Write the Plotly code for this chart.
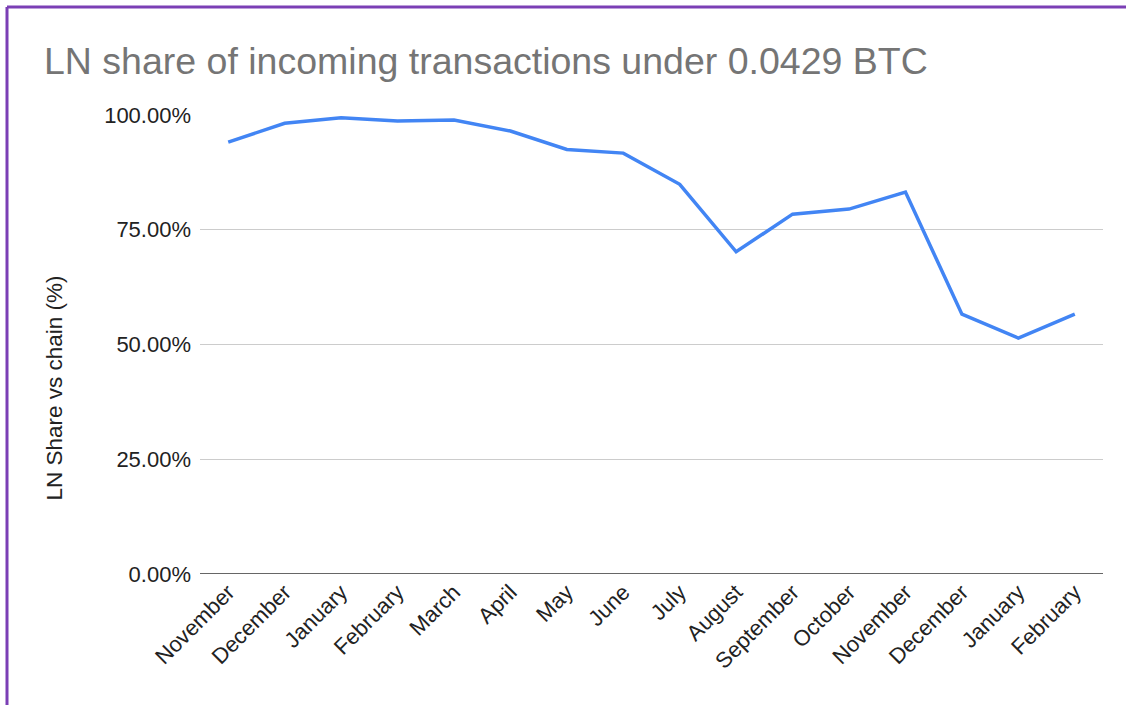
import plotly.graph_objects as go

months = ["November", "December", "January", "February", "March", "April", "May", "June",
          "July", "August", "September", "October", "November", "December", "January", "February"]
ln_share = [94.1, 98.2, 99.4, 98.7, 98.9, 96.5, 92.5, 91.7,
            84.9, 70.2, 78.4, 79.5, 83.2, 56.6, 51.4, 56.6]
y_ticks = [0, 25, 50, 75, 100]
y_tick_labels = ["0.00%", "25.00%", "50.00%", "75.00%", "100.00%"]

positions = list(range(len(months)))

W, H = 1126, 705
L, R, T, B = 200, 23, 115, 131
pw, ph = W - L - R, H - T - B

fig = go.Figure()
fig.add_trace(go.Scatter(
    x=positions, y=ln_share, mode="lines",
    line=dict(color="#4285F4", width=3.5),
    hoverinfo="skip", showlegend=False,
))

font = "Liberation Sans, Arial, sans-serif"

fig.update_layout(
    width=W, height=H,
    margin=dict(l=L, r=R, t=T, b=B),
    paper_bgcolor="white", plot_bgcolor="white",
    title=dict(
        text="LN share of incoming transactions under 0.0429 BTC",
        font=dict(family=font, size=37.5, color="#757575"),
        x=44 / W, xanchor="left", xref="container",
        y=1 - 61 / H, yanchor="middle", yref="container",
    ),
    xaxis=dict(
        range=[-0.5, len(months) - 0.5],
        tickmode="array", tickvals=positions, ticktext=months,
        tickangle=-45, showgrid=False, zeroline=False, showline=False,
        ticks="", tickfont=dict(family=font, size=22, color="#222222"),
        fixedrange=True,
    ),
    yaxis=dict(
        range=[0, 100],
        tickmode="array", tickvals=y_ticks, ticktext=y_tick_labels,
        showgrid=True, gridcolor="#cccccc", gridwidth=1.2,
        zeroline=False, showline=False, ticks="",
        ticklabelstandoff=8,
        tickfont=dict(family=font, size=22, color="#222222"),
        fixedrange=True,
    ),
    annotations=[dict(
        text="LN Share vs chain (%)", textangle=-90,
        xref="paper", yref="paper",
        x=(54 - L) / pw, y=(H - B - 388.5) / ph,
        xanchor="center", yanchor="middle", showarrow=False,
        font=dict(family=font, size=22.5, color="#222222"),
    )],
    shapes=[
        # baseline (0%)
        dict(type="line", xref="paper", yref="y", x0=0, x1=1, y0=0, y1=0,
             line=dict(color="#333333", width=1.6)),
        # purple frame: top and left edges
        dict(type="line", xref="paper", yref="paper",
             x0=(7 - L) / pw, x1=(W + 10 - L) / pw,
             y0=(H - B - 7) / ph, y1=(H - B - 7) / ph,
             line=dict(color="#7B3FB5", width=3)),
        dict(type="line", xref="paper", yref="paper",
             x0=(7 - L) / pw, x1=(7 - L) / pw,
             y0=(H - B - 7) / ph, y1=(H - B - H - 10) / ph,
             line=dict(color="#7B3FB5", width=3)),
    ],
)

fig.write_html(
    "out.html",
    config={"displayModeBar": False, "staticPlot": True},
    post_script="document.body.style.margin='0';document.body.style.overflow='hidden';",
)
